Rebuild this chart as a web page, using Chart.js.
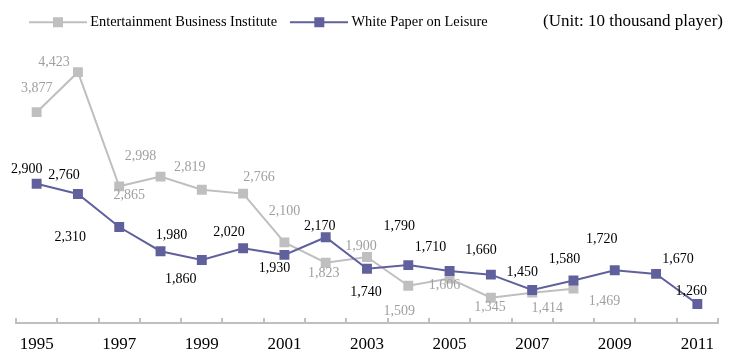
<!DOCTYPE html>
<html>
<head>
<meta charset="utf-8">
<script src="https://cdn.jsdelivr.net/npm/chart.js@4.4.1/dist/chart.umd.min.js"></script>
<style>
    body { margin: 0; background: #fff; }
    #contenedor { position: relative; width: 737px; height: 352px; }
    #unidad {
        position: absolute; right: 14px; top: 11px;
        font-family: "Liberation Serif", serif; font-size: 17px; line-height: 20px; color: #000;
    }
</style>
</head>
<body>
<div id="contenedor">
    <canvas id="grafica-lineal"></canvas>
    <div id="unidad">(Unit: 10 thousand player)</div>
</div>
<script>
// datos
const anios = ['1995', '1996', '1997', '1998', '1999', '2000', '2001', '2002', '2003',
    '2004', '2005', '2006', '2007', '2008', '2009', '2010', '2011'];
const valoresEBI = [3877, 4423, 2865, 2998, 2819, 2766, 2100, 1823, 1900, 1509, 1606, 1345, 1414, 1469];
const valoresWPL = [2900, 2760, 2310, 1980, 1860, 2020, 1930, 2170, 1740, 1790, 1710, 1660, 1450, 1580, 1720, 1670, 1260];
const nombres = ['Entertainment Business Institute', 'White Paper on Leisure'];

// posicion de las etiquetas respecto al punto (dx, dy)
const posEBI = [[0, -24], [-24, -10], [10, 9], [-20, -20], [-12, -22], [16, -16], [0, -31],
    [-2, 11], [-6, -11], [-9, 26], [-5, 7], [-1, 10], [15, 16], [31, 13]];
const posWPL = [[-10, -14], [-14, -19], [-49, 10], [11, -16], [-21, 19], [-14, -16], [-10, 13],
    [-6, -11], [-1, 24], [-9, -39], [-19, -24], [-10, -24], [-10, -18], [-9, -21], [-13, -31], [22, -15], [-6, -13]];

const gris = '#BFBFBF';
const morado = '#60609C';
const fuente = 'Liberation Serif';

function iconoLeyenda(color) {
    const c = document.createElement('canvas');
    c.width = 58;
    c.height = 12;
    const g = c.getContext('2d');
    g.fillStyle = color;
    g.fillRect(0, 5, 58, 2);
    g.fillRect(24, 1, 10, 10);
    return c;
}

const etiquetasDatos = {
    id: 'etiquetasDatos',
    afterDatasetsDraw(chart) {
        const ctx = chart.ctx;
        ctx.save();
        ctx.font = '14px "' + fuente + '"';
        ctx.textAlign = 'center';
        ctx.textBaseline = 'middle';
        chart.data.datasets.forEach((ds, i) => {
            const meta = chart.getDatasetMeta(i);
            ctx.fillStyle = ds.colorEtiqueta;
            meta.data.forEach((p, j) => {
                const v = ds.data[j];
                if (v == null) return;
                const d = ds.posEtiquetas[j];
                ctx.fillText(v.toLocaleString('en-US'), p.x + d[0], p.y + d[1]);
            });
        });
        ctx.restore();
    }
};

const ctx = document.getElementById('grafica-lineal').getContext('2d');
const graficaLineal = new Chart(ctx, {
    type: 'line',
    data: {
        labels: anios,
        datasets: [{
            label: nombres[0],
            data: valoresEBI,
            borderColor: gris,
            backgroundColor: gris,
            borderWidth: 2,
            pointStyle: 'rect',
            pointRadius: 7,
            pointBorderWidth: 0,
            pointBackgroundColor: gris,
            tension: 0,
            order: 1,
            colorEtiqueta: '#A0A0A0',
            posEtiquetas: posEBI
        }, {
            label: nombres[1],
            data: valoresWPL,
            borderColor: morado,
            backgroundColor: morado,
            borderWidth: 2,
            pointStyle: 'rect',
            pointRadius: 7,
            pointBorderWidth: 0,
            pointBackgroundColor: morado,
            tension: 0,
            order: 0,
            colorEtiqueta: '#000',
            posEtiquetas: posWPL
        }]
    },
    options: {
        responsive: true,
        maintainAspectRatio: false,
        animation: false,
        layout: {
            padding: { left: 16, right: 19, top: -2, bottom: -19 }
        },
        scales: {
            x: {
                offset: true,
                grid: {
                    offset: true,
                    drawOnChartArea: false,
                    drawTicks: true,
                    tickLength: -5,
                    color: gris,
                    lineWidth: 2
                },
                border: { color: gris, width: 2 },
                ticks: {
                    autoSkip: false,
                    maxRotation: 0,
                    padding: 18,
                    color: '#000',
                    font: { family: fuente, size: 17, lineHeight: 1 },
                    callback: function (val, idx) {
                        return idx % 2 === 0 ? this.getLabelForValue(val) : '';
                    }
                }
            },
            y: {
                display: false,
                min: 1000,
                max: 4870
            }
        },
        plugins: {
            legend: {
                position: 'top',
                align: 'start',
                labels: {
                    usePointStyle: true,
                    pointStyleWidth: 50,
                    padding: 17,
                    color: '#000',
                    font: { family: fuente, size: 14.4 },
                    generateLabels: (chart) => chart.data.datasets.map((ds, i) => ({
                        text: ds.label,
                        pointStyle: iconoLeyenda(ds.borderColor),
                        fillStyle: ds.borderColor,
                        strokeStyle: ds.borderColor,
                        lineWidth: 0,
                        hidden: false,
                        fontColor: '#000',
                        datasetIndex: i
                    }))
                }
            },
            tooltip: { enabled: false }
        }
    },
    plugins: [etiquetasDatos]
});
</script>
</body>
</html>
